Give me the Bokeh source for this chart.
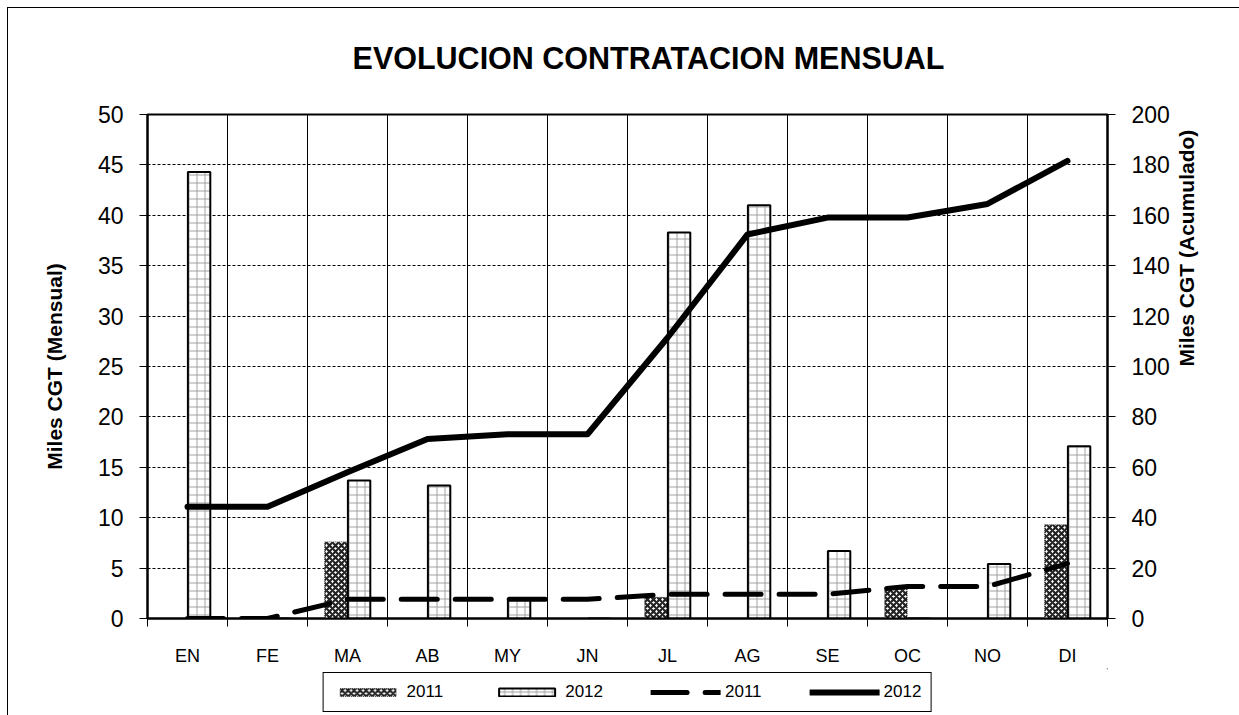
import numpy as np
from bokeh.plotting import figure
from bokeh.layouts import column
from bokeh.models import (Range1d, LinearAxis, FixedTicker, Legend, LegendItem, Label)
from bokeh.embed import file_html
from bokeh.resources import INLINE

months = ["EN", "FE", "MA", "AB", "MY", "JN", "JL", "AG", "SE", "OC", "NO", "DI"]
m2011 = [0, 0, 7.6, 0, 0, 0, 2.1, 0, 0, 3.1, 0, 9.3]
m2012 = [44.3, 0, 13.7, 13.2, 1.9, 0, 38.3, 41.0, 6.7, 0, 5.4, 17.1]
acc2011 = [0, 0, 7.6, 7.6, 7.6, 7.6, 9.6, 9.6, 9.6, 12.7, 12.7, 21.8]
acc2012 = [44.3, 44.3, 58.0, 71.2, 73.1, 73.1, 111.4, 152.4, 159.1, 159.1, 164.5, 181.6]
series_names = ["2011", "2012"]
title_text = "EVOLUCION CONTRATACION MENSUAL"

centers = np.arange(len(months)) + 0.5
FONT = "Liberation Sans"
W = 1231

bar11_style = dict(fill_color="white", line_color="#444444", line_width=1, line_dash="1 1",
                   hatch_pattern="x", hatch_color="#222222", hatch_weight=2.2, hatch_scale=6)
bar12_style = dict(fill_color="white", line_color="black", line_width=2,
                   hatch_pattern="+", hatch_color="#a0a0a0", hatch_weight=1, hatch_scale=8)
line11_style = dict(line_color="black", line_width=5, line_dash="36 18", line_cap="round")
line12_style = dict(line_color="black", line_width=6, line_cap="round", line_join="round")

# header strip with the title
h = figure(width=W, height=90, output_backend="svg", toolbar_location=None,
           x_range=Range1d(0, 1), y_range=Range1d(0, 1),
           x_axis_location=None, y_axis_location=None,
           min_border_left=0, min_border_right=0, min_border_top=8, min_border_bottom=0)
h.grid.visible = False
h.outline_line_color = None
h.border_fill_color = "white"
h.background_fill_color = "white"
h.add_layout(Label(x=0.5, y=0.5, x_offset=21, text=title_text, text_align="center",
                   text_baseline="middle",
                   text_font=FONT, text_font_size="30.5px", text_font_style="bold",
                   text_color="black"))

p = figure(width=W, height=570, output_backend="svg", toolbar_location=None,
           x_range=Range1d(0, 12), y_range=Range1d(0, 50),
           min_border_left=139, min_border_right=W - 1106 + 7, min_border_top=16,
           min_border_bottom=46)
p.extra_y_ranges = {"acc": Range1d(0, 200)}
p.outline_line_color = "black"
p.outline_line_width = 2
p.background_fill_color = "white"
p.border_fill_color = "white"

# grids
p.xgrid.ticker = FixedTicker(ticks=list(range(1, 12)))
p.xgrid.grid_line_color = "black"
p.xgrid.grid_line_width = 1
p.ygrid.ticker = FixedTicker(ticks=list(range(5, 50, 5)))
p.ygrid.grid_line_color = "black"
p.ygrid.grid_line_dash = "3 2"
p.ygrid.grid_line_width = 1

# x axis
xa = p.xaxis[0]
xa.ticker = FixedTicker(ticks=list(centers), minor_ticks=list(range(0, 13)))
xa.major_label_overrides = {float(c): m for c, m in zip(centers, months)}
xa.major_tick_out = 0
xa.major_tick_in = 0
xa.minor_tick_out = 8
xa.minor_tick_in = 0
xa.minor_tick_line_color = "black"
xa.axis_line_color = "black"
xa.axis_line_width = 2
xa.major_label_standoff = 19
xa.major_label_text_font = FONT
xa.major_label_text_font_size = "18px"
xa.major_label_text_color = "black"

# left y axis
ya = p.yaxis[0]
ya.ticker = FixedTicker(ticks=list(range(0, 51, 5)))
ya.axis_label = "Miles CGT (Mensual)"
ya.axis_label_text_font = FONT
ya.axis_label_text_font_size = "21px"
ya.axis_label_text_font_style = "bold"
ya.axis_label_text_color = "black"
ya.axis_label_standoff = 29
ya.major_tick_out = 8
ya.major_tick_in = 0
ya.minor_tick_line_color = None
ya.axis_line_width = 2
ya.major_label_standoff = 16
ya.major_label_text_font = FONT
ya.major_label_text_font_size = "23px"
ya.major_label_text_color = "black"

# right y axis
ra = LinearAxis(y_range_name="acc", ticker=FixedTicker(ticks=list(range(0, 201, 20))))
ra.axis_label = "Miles CGT (Acumulado)"
ra.axis_label_text_font = FONT
ra.axis_label_text_font_size = "21px"
ra.axis_label_text_font_style = "bold"
ra.axis_label_text_color = "black"
ra.axis_label_standoff = 14
try:
    ra.axis_label_orientation = 1.5707963
except Exception:
    pass
ra.major_tick_out = 8
ra.major_tick_in = 0
ra.minor_tick_line_color = None
ra.axis_line_width = 2
ra.major_label_standoff = 16
ra.major_label_text_font = FONT
ra.major_label_text_font_size = "23px"
ra.major_label_text_color = "black"
p.add_layout(ra, "right")

# bars and lines
p.vbar(x=centers - 0.145, top=m2011, width=0.28, bottom=0, **bar11_style)
p.vbar(x=centers + 0.145, top=m2012, width=0.28, bottom=0, **bar12_style)
p.line(x=centers, y=acc2011, y_range_name="acc", **line11_style)
p.line(x=centers, y=acc2012, y_range_name="acc", **line12_style)

# legend strip under the chart (its sample glyphs sit outside the strip's visible range)
q = figure(width=W, height=48, output_backend="svg", toolbar_location=None,
           x_range=Range1d(0, 1), y_range=Range1d(0, 1),
           x_axis_location=None, y_axis_location=None,
           min_border_left=16, min_border_right=8, min_border_top=0, min_border_bottom=0)
q.grid.visible = False
q.outline_line_color = None
q.border_fill_color = "white"
q.background_fill_color = "white"
g1 = q.vbar(x=[5], top=[6], bottom=5, width=0.1, **bar11_style)
g2 = q.vbar(x=[5], top=[6], bottom=5, width=0.1, **bar12_style)
g3 = q.line(x=[5, 6], y=[5, 5], **line11_style)
g4 = q.line(x=[5, 6], y=[5, 5], **line12_style)
legend = Legend(items=[LegendItem(label=series_names[0], renderers=[g1]),
                       LegendItem(label=series_names[1], renderers=[g2]),
                       LegendItem(label=series_names[0], renderers=[g3]),
                       LegendItem(label=series_names[1], renderers=[g4])],
                orientation="horizontal", location="center",
                glyph_width=70, glyph_height=10, spacing=48, padding=9, label_standoff=4,
                label_text_font=FONT, label_text_font_size="17px", label_text_color="black",
                border_line_color="black", border_line_width=1, border_line_alpha=1,
                background_fill_alpha=1, margin=0)
q.add_layout(legend, "center")

layout = column(h, p, q, spacing=0, margin=(7, 0, 0, 7),
                styles={"border-left": "1px solid black", "border-top": "1px solid black"})

open("out.html", "w").write(file_html(layout, INLINE))
